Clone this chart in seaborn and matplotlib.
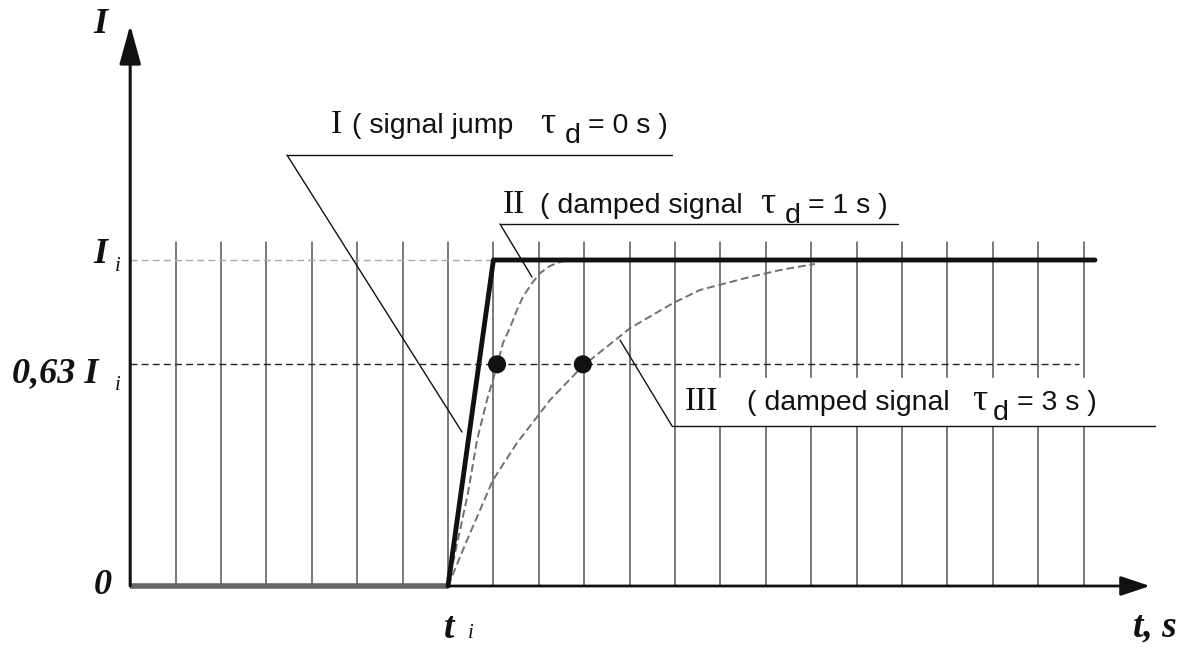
import numpy as np
import pandas as pd
import matplotlib
matplotlib.use('Agg')
import matplotlib.pyplot as plt
import seaborn as sns

# ---- data (time in grid units from t_i, current relative to I_i)
grid_t = list(range(-6, 15))
grid_top = 1.055
t_axis = -7
lvl_full = 1.0
lvl_63 = 0.68

jump_t = [0, 1, 14.25]
jump_i = [0, 1, 1]

damp1_t = [0, 0.44, 0.64, 0.86, 1.08, 1.21, 1.37, 1.52, 1.65, 1.85, 2.03, 2.25, 2.47, 2.69]
damp1_i = [0, 0.285, 0.448, 0.571, 0.675, 0.745, 0.794, 0.847, 0.887, 0.929, 0.960, 0.982, 0.994, 1.0]

damp3_t = [0, 0.42, 0.99, 1.52, 2.03, 2.25, 2.97, 4.01, 4.96, 5.55, 6.65, 7.31, 8.08]
damp3_i = [0, 0.141, 0.325, 0.439, 0.531, 0.571, 0.675, 0.791, 0.868, 0.908, 0.948, 0.969, 0.988]

dots_t = [1.08, 2.97]
dots_i = [lvl_63, lvl_63]

sns.set_style('white')

W, H = 1197, 648
fig = plt.figure(figsize=(W / 100, H / 100), dpi=100)
ax = fig.add_axes([0, 0, 1, 1])
ax.axis('off')

# pixel -> data helper (for decorations only)
def P(x, y):
    return (x - 448) / 45.4, (586 - y) / 326.0

ax.set_xlim(P(0, 0)[0], P(W, 0)[0])
ax.set_ylim(P(0, H)[1], P(0, 0)[1])

# grid
for g in grid_t:
    ax.plot([g, g], [0, grid_top], color='#555555', lw=1.1, zorder=1)
ax.plot([t_axis, 1], [lvl_full, lvl_full], color='#aaaaaa', lw=1, ls=(0, (5, 3)), zorder=2)
ax.plot([t_axis, 13.9], [lvl_63, lvl_63], color='#222222', lw=1, ls=(0, (5, 3)), zorder=2)

# axes
ax.plot([t_axis, 0], [0, 0], color='#666666', lw=4, solid_capstyle='butt', zorder=3)
ax.annotate('', xy=(P(1150, 0)[0], 0), xytext=(0, 0),
            arrowprops=dict(arrowstyle='-|>,head_length=0.9,head_width=0.3',
                            mutation_scale=20, color='#111111', lw=2, shrinkA=0, shrinkB=0))
ax.annotate('', xy=(t_axis, P(0, 25)[1]), xytext=(t_axis, 0),
            arrowprops=dict(arrowstyle='-|>,head_length=1.2,head_width=0.33',
                            mutation_scale=20, color='#111111', lw=2.2, shrinkA=0, shrinkB=0))

# curves
sns.lineplot(x=damp1_t, y=damp1_i, ax=ax, color='#707070', lw=1.4, linestyle=(0, (4, 2)),
             sort=False, zorder=4)
sns.lineplot(x=damp3_t, y=damp3_i, ax=ax, color='#707070', lw=1.4, linestyle=(0, (4, 2)),
             sort=False, zorder=4)
sns.lineplot(x=jump_t, y=jump_i, ax=ax, color='#111111', lw=3.5, sort=False, zorder=5)
sns.scatterplot(x=dots_t, y=dots_i, ax=ax, color='#111111', s=170, edgecolor='none', zorder=6)

# annotation leaders / underlines
def seg(p, q, **kw):
    a, b = P(*p), P(*q)
    ax.plot([a[0], b[0]], [a[1], b[1]], color='#111111', lw=1, zorder=7, **kw)

seg((287, 155), (672, 155))
seg((287, 155), (462, 432))
seg((500, 224), (898, 224))
seg((500, 224), (532, 277))
# white box behind label III
bx0, by0 = P(678, 425)
bx1, by1 = P(1155, 378)
ax.fill_between([bx0, bx1], by0, by1, color='white', zorder=6.5)
seg((672, 426), (1155, 426))
seg((672, 426), (620, 340))

def ftext(x, y, s, **kw):
    fig.text(x / W, 1 - y / H, s, **kw)

serif_bi = dict(family='Liberation Serif', weight='bold', style='italic', color='#111111')
serif_i = dict(family='Liberation Serif', style='italic', color='#111111')
roman = dict(family='Liberation Serif', color='#111111', fontsize=24, va='baseline', ha='left')
sans = dict(family='Liberation Sans', color='#111111', fontsize=20.5, va='baseline', ha='left')
tau = dict(family='Liberation Serif', color='#111111', fontsize=27, va='baseline', ha='left')

# axis labels
ftext(93, 33, 'I', fontsize=26, ha='left', va='baseline', **serif_bi)
ftext(93, 263, 'I', fontsize=26, ha='left', va='baseline', **serif_bi)
ftext(115, 271, 'i', fontsize=15, ha='left', va='baseline', **serif_i)
ftext(98, 382, '0,63 I', fontsize=26, ha='right', va='baseline', **serif_bi)
ftext(115, 390, 'i', fontsize=15, ha='left', va='baseline', **serif_i)
ftext(103, 586, '0', fontsize=26, ha='center', va='center', **serif_bi)
ftext(444, 638, 't', fontsize=27, ha='left', va='baseline', **serif_bi)
ftext(468, 638, 'i', fontsize=15, ha='left', va='baseline', **serif_i)
ftext(1133, 636, 't, s', fontsize=27, ha='left', va='baseline', **serif_bi)

# curve labels: numeral, text, tau, subscript d, value
def curve_label(base, xs, parts):
    num, txt, val = parts
    ftext(xs[0], base, num, **roman)
    ftext(xs[1], base, txt, **sans)
    ftext(xs[2], base, '\u03c4', **tau)
    ftext(xs[3], base + 10, 'd', **sans)
    ftext(xs[4], base, val, **sans)

curve_label(133, [331, 352, 540, 565, 588], ['I', '( signal jump', '= 0 s )'])
curve_label(213, [503, 540, 760, 785, 808], ['II', '( damped signal', '= 1 s )'])
curve_label(410, [685, 747, 972, 993, 1017], ['III', '( damped signal', '= 3 s )'])

fig.savefig('out.png', dpi=100)
